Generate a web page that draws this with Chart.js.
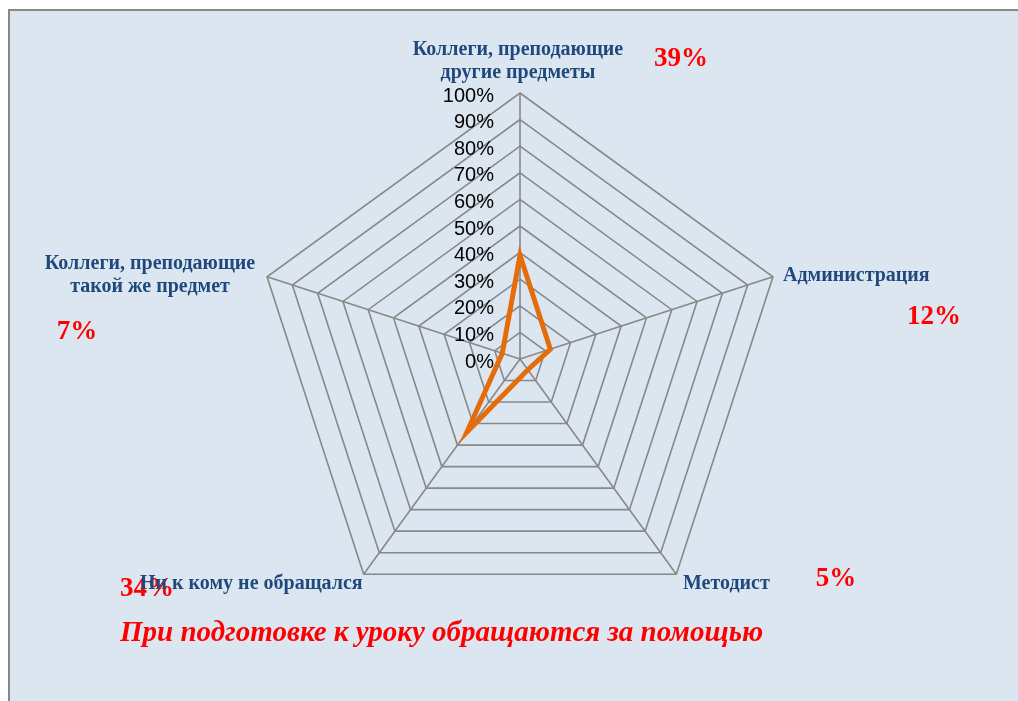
<!DOCTYPE html>
<html>
<head>
<meta charset="utf-8">
<script src="https://cdn.jsdelivr.net/npm/chart.js@4"></script>
<style>
  body { margin: 0; background: #fff; }
  #box {
    position: absolute; left: 8px; top: 9px; width: 1030px; height: 710px;
    background: #dce6f1; border-left: 2px solid #888; border-top: 2px solid #888;
  }
  #wrap { position: absolute; left: 0; top: 0; width: 1018px; height: 701px; }
</style>
</head>
<body>
<div id="box"></div>
<div id="wrap"><canvas id="chart"></canvas></div>
<script>
const categories = [
    ['Коллеги, преподающие', 'другие предметы'],
    ['Администрация'],
    ['Методист'],
    ['Ни к кому не обращался'],
    ['Коллеги, преподающие', 'такой же предмет']
];
const shares = [39, 12, 5, 34, 7];
const tickStep = 10;
const tickMax = 100;
const title = 'При подготовке к уроку обращаются за помощью';

// where each category name and its share are written
const namePos = [[518, 50], [783, 276], [683, 584], [140, 584], [150, 264]];
const nameAlign = ['center', 'left', 'left', 'left', 'center'];
const sharePos = [[681, 59], [934, 317], [836, 579], [147, 589], [77, 332]];

function txt(ctx, s, x, y, font, color, align) {
    ctx.font = font;
    ctx.fillStyle = color;
    ctx.textAlign = align;
    ctx.textBaseline = 'middle';
    ctx.fillText(s, x, y);
}

const tickLabels = {
    id: 'tickLabels',
    beforeDatasetsDraw(chart) {
        const r = chart.scales.r;
        const ctx = chart.ctx;
        ctx.save();
        r.ticks.forEach(t => {
            const y = r.yCenter - r.getDistanceFromCenterForValue(t.value);
            txt(ctx, t.value + '%', r.xCenter - 26, y + 3, '20px "Liberation Sans"', '#000', 'right');
        });
        ctx.restore();
    }
};

const annotations = {
    id: 'annotations',
    afterDraw(chart) {
        const ctx = chart.ctx;
        ctx.save();
        shares.forEach((v, i) => {
            txt(ctx, v + '%', sharePos[i][0], sharePos[i][1], 'bold 27px "Liberation Serif"', '#ff0000', 'center');
        });
        categories.forEach((lines, i) => {
            lines.forEach((s, k) => {
                txt(ctx, s, namePos[i][0], namePos[i][1] + k * 23, 'bold 20px "Liberation Serif"', '#1f497d', nameAlign[i]);
            });
        });
        txt(ctx, title, 120, 634, 'italic bold 29px "Liberation Serif"', '#ff0000', 'left');
        ctx.restore();
    }
};

new Chart(document.getElementById('chart'), {
    type: 'radar',
    data: {
        labels: categories,
        datasets: [{
            data: shares,
            borderColor: '#e46c0a',
            borderWidth: 5,
            backgroundColor: 'transparent',
            fill: false,
            pointRadius: 0,
            tension: 0
        }]
    },
    options: {
        responsive: true,
        maintainAspectRatio: false,
        animation: false,
        layout: { padding: { top: 93, bottom: 76, left: 254, right: 232 } },
        scales: {
            r: {
                min: 0,
                max: tickMax,
                ticks: { stepSize: tickStep, display: false },
                grid: { color: '#888', lineWidth: 1.6 },
                angleLines: { color: '#888', lineWidth: 1.6 },
                pointLabels: { display: false }
            }
        },
        plugins: { legend: { display: false }, tooltip: { enabled: false } }
    },
    plugins: [tickLabels, annotations]
});
</script>
</body>
</html>
